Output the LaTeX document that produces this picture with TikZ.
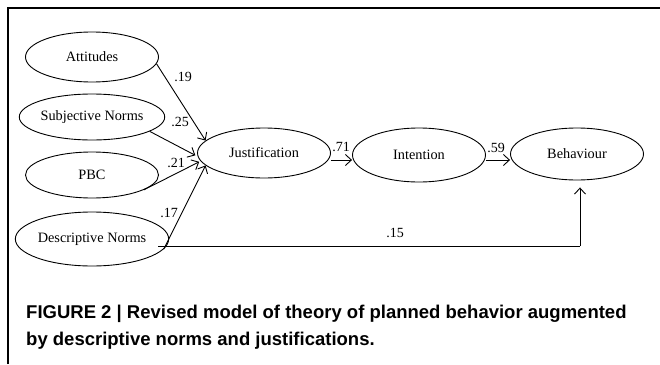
\documentclass[tikz,border=0pt]{standalone}
\usepackage{fontspec}
\setmainfont{Liberation Serif}
\newfontfamily\capfont{Liberation Sans}
\usetikzlibrary{shapes.geometric,arrows.meta}
\begin{document}
\begin{tikzpicture}[x=1pt,y=-1pt,
  var/.style={ellipse,draw,line width=0.9pt,minimum width=133pt,minimum height=50pt,inner sep=0pt,font=\fontsize{14.3}{16}\selectfont},
  path/.style={line width=0.9pt,-{Straight Barb[length=6pt,width=11pt]}},
  coef/.style={font=\fontsize{14}{16}\selectfont,inner sep=0pt}]
\useasboundingbox (0,0) rectangle (660,364);
\fill[white] (0,0) rectangle (660,364);
\draw[line width=2.6pt] (8,364) -- (8,8) -- (660,8);
\node[var] (att) at (92,57) {Attitudes};
\node[var,minimum height=46pt] (sn) at (92,117) {Subjective Norms};
\node[var,minimum height=46pt] (pbc) at (92,175) {PBC};
\node[var,minimum height=54pt] (dn) at (92,239) {Descriptive Norms};
\node[var,minimum height=50pt] (just) at (264,153) {Justification};
\node[var,minimum height=54pt] (int) at (419,155) {Intention};
\node[var,minimum height=52pt] (beh) at (577,154) {Behaviour};
\coordinate (corner) at (580,246);
\draw[path] (att.-6) -- (just.168);
\draw[path] (sn.-14) -- ([xshift=-2pt]just.182);
\draw[path] (pbc.-16) -- ([xshift=-2pt]just.188);
\draw[path] (dn.-8) -- (just.192);
\draw[path] (just.east |- 0,160) -- (int.west |- 0,160);
\draw[path] (int.east |- 0,160) -- (beh.west |- 0,160);
\draw[line width=0.9pt] (dn.-12 |- corner) -- (corner);
\draw[path] (corner) -- ([yshift=-7pt]beh.south -| corner);
\node[coef] at (183,77) {.19};
\node[coef] at (180,122) {.25};
\node[coef] at (176,163) {.21};
\node[coef] at (169,213) {.17};
\node[coef] at (341,147) {.71};
\node[coef] at (496,148) {.59};
\node[coef] at (395,233) {.15};
\node[anchor=north west,align=left,inner sep=0pt,font=\capfont\bfseries\fontsize{18.5}{27}\selectfont] (cap) at (26,305) {FIGURE 2 | Revised model of theory of planned behavior augmented\\by descriptive norms and justifications.};
\end{tikzpicture}
\end{document}
